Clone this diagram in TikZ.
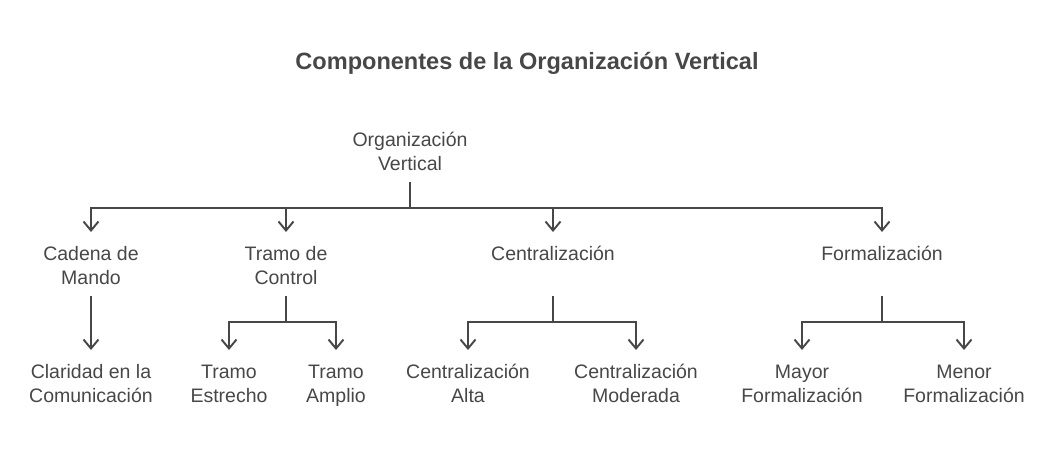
\documentclass[tikz,border=0pt]{standalone}
\usepackage{fontspec}
\setmainfont{Liberation Sans}
\usepackage{xcolor}
\usepackage{tikz}
\usetikzlibrary{arrows.meta,positioning}
\definecolor{inkgray}{HTML}{474747}
\tikzset{
  titletext/.style={text=inkgray, font=\fontsize{13.4}{16}\selectfont\bfseries, inner sep=0pt},
  treetext/.style={text=inkgray, align=center, font=\fontsize{11.1}{13.6}\selectfont,
    inner sep=0pt, outer xsep=0pt, outer ysep=6.4pt, text height=23.6pt},
  oneline/.style={text height=10pt},
  treeline/.style={draw=inkgray, line width=1.1pt},
  treearrow/.style={draw=inkgray, line width=1.1pt,
    -{Straight Barb[length=1.8mm, width=3mm, line width=1.1pt]}},
}

\begin{document}
\begin{tikzpicture}[x=0.02cm, y=-0.02cm]
  \useasboundingbox (0,0) rectangle (1053,454);

  % Title
  \node[titletext] (title) at (527,63) {Componentes de la Organización Vertical};

  % Root
  \node[treetext] (org) at (410,150) {Organización\\Vertical};

  % First level
  \node[treetext, anchor=north] (cadena) at (91,232) {Cadena de\\Mando};
  \node[treetext, anchor=north] (tramo) at (286,232) {Tramo de\\Control};
  \node[treetext, oneline, anchor=north] (central) at (553,232) {Centralización};
  \node[treetext, oneline, anchor=north] (formal) at (882,232) {Formalización};

  % Second level
  \node[treetext, anchor=north] (claridad) at (91,350) {Claridad en la\\Comunicación};
  \node[treetext, anchor=north] (estrecho) at (229,350) {Tramo\\Estrecho};
  \node[treetext, anchor=north] (amplio) at (336,350) {Tramo\\Amplio};
  \node[treetext, anchor=north] (calta) at (468,350) {Centralización\\Alta};
  \node[treetext, anchor=north] (cmod) at (636,350) {Centralización\\Moderada};
  \node[treetext, anchor=north] (fmayor) at (802,350) {Mayor\\Formalización};
  \node[treetext, anchor=north] (fmenor) at (964,350) {Menor\\Formalización};

  % Root to first level
  \coordinate (j0) at (410,208);
  \draw[treeline] (org.south) -- (j0);
  \draw[treearrow] (j0) -| (cadena.north);
  \draw[treearrow] (j0) -| (tramo.north);
  \draw[treearrow] (j0) -| (central.north);
  \draw[treearrow] (j0) -| (formal.north);

  % Cadena de Mando
  \draw[treearrow] (cadena.south) -- (claridad.north);

  % Tramo de Control
  \coordinate (j1) at (286,322);
  \draw[treeline] (tramo.south) -- (j1);
  \draw[treearrow] (j1) -| (estrecho.north);
  \draw[treearrow] (j1) -| (amplio.north);

  % Centralizacion
  \coordinate (j2) at (553,322);
  \draw[treeline] (central |- cadena.south) -- (j2);
  \draw[treearrow] (j2) -| (calta.north);
  \draw[treearrow] (j2) -| (cmod.north);

  % Formalizacion
  \coordinate (j3) at (882,322);
  \draw[treeline] (formal |- cadena.south) -- (j3);
  \draw[treearrow] (j3) -| (fmayor.north);
  \draw[treearrow] (j3) -| (fmenor.north);
\end{tikzpicture}
\end{document}
